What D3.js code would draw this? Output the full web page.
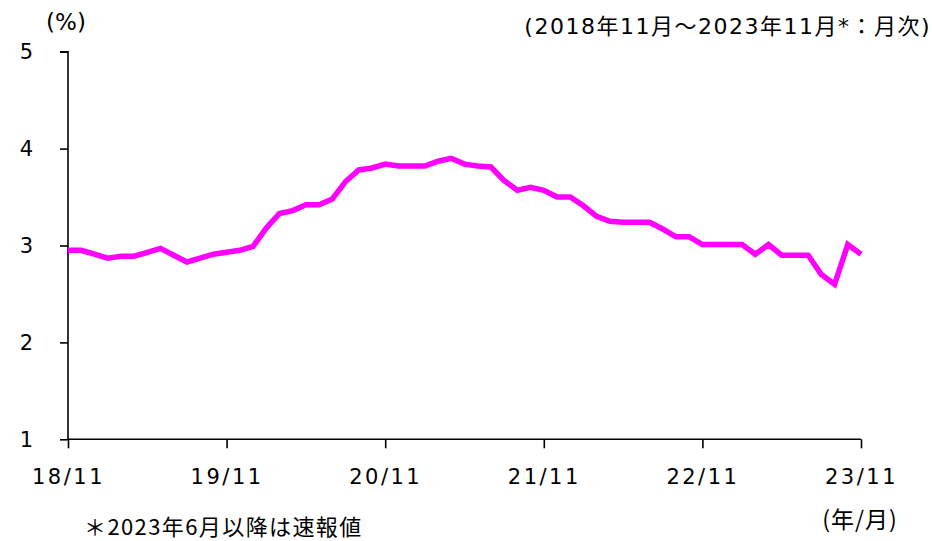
<!DOCTYPE html>
<html><head><meta charset="utf-8">
<script src="https://cdn.jsdelivr.net/npm/d3@7"></script>
<style>
html,body{margin:0;padding:0;background:#fff;}
svg{display:block;}
text{fill:#000;}
</style></head>
<body>
<svg id="c" width="932" height="541"></svg>
<script>
// ---- data ----
const months = d3.range(0, 61); // 0 = 2018/11 ... 60 = 2023/11
const values = [
  2.95, 2.95, 2.91, 2.87, 2.89, 2.89, 2.93, 2.97, 2.90, 2.83,
  2.87, 2.91, 2.93, 2.95, 2.99, 3.18, 3.33, 3.36, 3.42, 3.42,
  3.48, 3.66, 3.78, 3.80, 3.84, 3.82, 3.82, 3.82, 3.87, 3.90,
  3.84, 3.82, 3.81, 3.67, 3.57, 3.60, 3.57, 3.50, 3.50, 3.41,
  3.30, 3.25, 3.24, 3.24, 3.24, 3.17, 3.09, 3.09, 3.01, 3.01,
  3.01, 3.01, 2.91, 3.01, 2.90, 2.90, 2.90, 2.70, 2.60, 3.01,
  2.91
];
const xTickPos = [0, 12, 24, 36, 48, 60];
const xTickLabels = ["18/11", "19/11", "20/11", "21/11", "22/11", "23/11"];
const yTicks = [1, 2, 3, 4, 5];
const unitLabel = "(%)";
const periodLabel = "(2018年11月～2023年11月*：月次)";
const xUnitLabel = "(年/月)";
const footnote = "＊2023年6月以降は速報値";

// ---- drawing ----
const svg = d3.select("#c");
const latin = "'DejaVu Sans', Verdana, 'Noto Sans CJK JP', sans-serif";
const cjk = "'Noto Sans CJK JP', 'DejaVu Sans', sans-serif";

const x = d3.scaleLinear().domain([0, 60]).range([68, 861]);
const y = d3.scaleLinear().domain([1, 5]).range([439.3, 51.7]);

// y axis
const ya = svg.append("g").attr("transform", "translate(68,0)")
  .call(d3.axisLeft(y).tickValues(yTicks).tickFormat(d3.format("d")).tickSize(8).tickPadding(27));
ya.select(".domain").attr("stroke", "#000").attr("stroke-width", 1.6).attr("d", `M-8,${y(5)}H0V${y(1)}`);
ya.selectAll(".tick line").attr("stroke", "#000").attr("stroke-width", 1.6);
ya.selectAll(".tick text").attr("font-family", latin).attr("font-size", 21).attr("dy", "0.34em");

// x axis
const xa = svg.append("g").attr("transform", `translate(0,${y(1)})`)
  .call(d3.axisBottom(x).tickValues(xTickPos).tickFormat((d, i) => xTickLabels[i]).tickSize(9).tickPadding(0));
xa.select(".domain").attr("stroke", "#000").attr("stroke-width", 1.6).attr("d", `M${x(0)},0H${x(60)}`);
xa.selectAll(".tick line").attr("stroke", "#000").attr("stroke-width", 1.6);
xa.selectAll(".tick text").attr("font-family", latin).attr("font-size", 21)
  .attr("letter-spacing", "2.5px").attr("dy", 0).attr("y", 45);

// line
svg.append("path")
  .datum(values)
  .attr("fill", "none")
  .attr("stroke", "#FF00FF")
  .attr("stroke-width", 5.5)
  .attr("stroke-linejoin", "miter")
  .attr("d", d3.line().x((d, i) => x(months[i])).y(d => y(d)));

// texts
svg.append("text").attr("x", 66).attr("y", 30).attr("text-anchor", "middle")
  .attr("font-family", latin).attr("font-size", 23).text(unitLabel);
svg.append("text").attr("x", 931).attr("y", 34).attr("text-anchor", "end")
  .attr("font-family", latin).attr("font-size", 22).attr("letter-spacing", "1.5px").text(periodLabel);
svg.append("text").attr("x", 860).attr("y", 528).attr("text-anchor", "middle")
  .attr("font-family", cjk).attr("font-size", 23).attr("letter-spacing", "1px").text(xUnitLabel);
svg.append("text").attr("x", 84).attr("y", 535)
  .attr("font-family", cjk).attr("font-size", 22).attr("letter-spacing", "1.4px").text(footnote);
</script>
</body></html>
